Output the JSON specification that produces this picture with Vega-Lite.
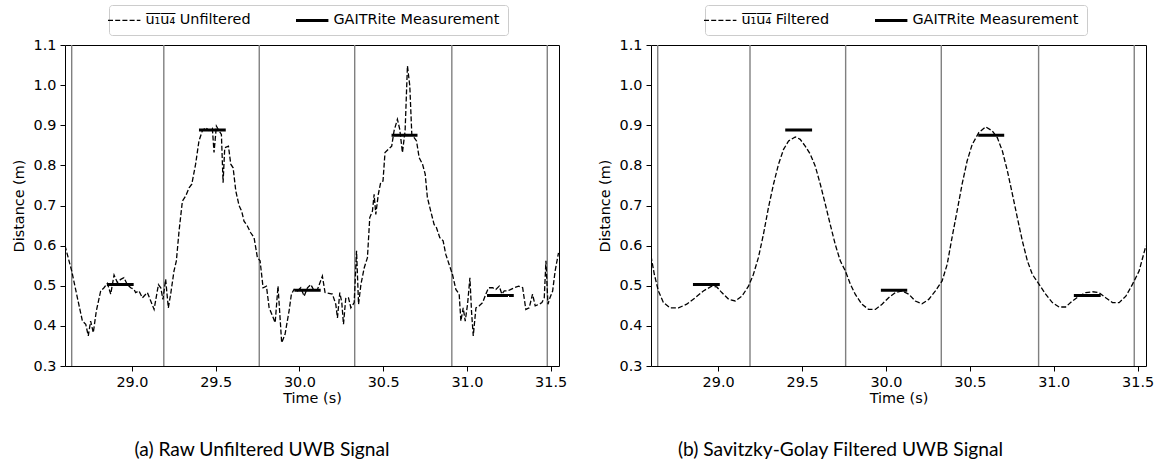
{
  "$schema": "https://vega.github.io/schema/vega-lite/v6.json",
  "padding": {"left": 10, "top": 4, "right": 12, "bottom": 4},
  "config": {
    "font": "DejaVu Sans",
    "view": {"stroke": "black", "strokeWidth": 1},
    "axis": {"labelFont": "DejaVu Sans", "labelFontSize": 14.4, "labelColor": "black", "titleFont": "DejaVu Sans", "titleFontSize": 14.4, "titleFontWeight": "normal", "titleColor": "black", "tickColor": "black", "tickSize": 5, "labelPadding": 4, "grid": false, "domain": false},
    "legend": {"labelFont": "DejaVu Sans", "labelFontSize": 14.4, "labelColor": "black", "labelLimit": 400},
    "title": {"font": "Lato", "fontSize": 19.2, "fontWeight": "normal", "color": "black"}
  },
  "datasets": {
    "steps": [{"t": 28.64}, {"t": 29.19}, {"t": 29.76}, {"t": 30.33}, {"t": 30.91}, {"t": 31.48}],
    "gait": [
      {"t0": 28.85, "t1": 29.01, "d": 0.503},
      {"t0": 29.40, "t1": 29.56, "d": 0.888},
      {"t0": 29.97, "t1": 30.127, "d": 0.489},
      {"t0": 30.55, "t1": 30.705, "d": 0.875},
      {"t0": 31.12, "t1": 31.28, "d": 0.476}
    ],
    "raw": [
      {"t": 28.600, "d": 0.600}, {"t": 28.640, "d": 0.537}, {"t": 28.674, "d": 0.470}, {"t": 28.704, "d": 0.412},
      {"t": 28.724, "d": 0.404}, {"t": 28.739, "d": 0.375}, {"t": 28.753, "d": 0.412}, {"t": 28.769, "d": 0.383},
      {"t": 28.787, "d": 0.437}, {"t": 28.813, "d": 0.487}, {"t": 28.833, "d": 0.495}, {"t": 28.853, "d": 0.506},
      {"t": 28.873, "d": 0.479}, {"t": 28.893, "d": 0.527}, {"t": 28.913, "d": 0.508}, {"t": 28.933, "d": 0.516},
      {"t": 28.952, "d": 0.520}, {"t": 28.972, "d": 0.503}, {"t": 28.992, "d": 0.495}, {"t": 29.012, "d": 0.491},
      {"t": 29.022, "d": 0.483}, {"t": 29.042, "d": 0.487}, {"t": 29.062, "d": 0.470}, {"t": 29.092, "d": 0.483},
      {"t": 29.112, "d": 0.462}, {"t": 29.132, "d": 0.441}, {"t": 29.158, "d": 0.503}, {"t": 29.172, "d": 0.495},
      {"t": 29.185, "d": 0.466}, {"t": 29.201, "d": 0.516}, {"t": 29.217, "d": 0.445}, {"t": 29.231, "d": 0.479},
      {"t": 29.251, "d": 0.537}, {"t": 29.265, "d": 0.562}, {"t": 29.281, "d": 0.636}, {"t": 29.301, "d": 0.711},
      {"t": 29.321, "d": 0.724}, {"t": 29.341, "d": 0.744}, {"t": 29.357, "d": 0.753}, {"t": 29.380, "d": 0.803},
      {"t": 29.400, "d": 0.861}, {"t": 29.420, "d": 0.886}, {"t": 29.440, "d": 0.894}, {"t": 29.460, "d": 0.887},
      {"t": 29.480, "d": 0.892}, {"t": 29.490, "d": 0.832}, {"t": 29.504, "d": 0.898}, {"t": 29.520, "d": 0.886},
      {"t": 29.534, "d": 0.877}, {"t": 29.544, "d": 0.757}, {"t": 29.554, "d": 0.844}, {"t": 29.576, "d": 0.848},
      {"t": 29.590, "d": 0.803}, {"t": 29.604, "d": 0.794}, {"t": 29.620, "d": 0.736}, {"t": 29.640, "d": 0.699},
      {"t": 29.655, "d": 0.686}, {"t": 29.669, "d": 0.661}, {"t": 29.689, "d": 0.649}, {"t": 29.709, "d": 0.632},
      {"t": 29.729, "d": 0.620}, {"t": 29.749, "d": 0.570}, {"t": 29.765, "d": 0.562}, {"t": 29.783, "d": 0.495},
      {"t": 29.803, "d": 0.499}, {"t": 29.819, "d": 0.445}, {"t": 29.839, "d": 0.425}, {"t": 29.855, "d": 0.408},
      {"t": 29.872, "d": 0.499}, {"t": 29.894, "d": 0.358}, {"t": 29.914, "d": 0.379}, {"t": 29.938, "d": 0.437},
      {"t": 29.952, "d": 0.479}, {"t": 29.968, "d": 0.491}, {"t": 29.988, "d": 0.487}, {"t": 30.008, "d": 0.495},
      {"t": 30.028, "d": 0.474}, {"t": 30.048, "d": 0.495}, {"t": 30.068, "d": 0.503}, {"t": 30.088, "d": 0.487},
      {"t": 30.108, "d": 0.491}, {"t": 30.137, "d": 0.524}, {"t": 30.153, "d": 0.483}, {"t": 30.197, "d": 0.479},
      {"t": 30.217, "d": 0.454}, {"t": 30.227, "d": 0.420}, {"t": 30.241, "d": 0.483}, {"t": 30.253, "d": 0.458},
      {"t": 30.263, "d": 0.404}, {"t": 30.277, "d": 0.470}, {"t": 30.293, "d": 0.470}, {"t": 30.307, "d": 0.445},
      {"t": 30.327, "d": 0.458}, {"t": 30.341, "d": 0.587}, {"t": 30.353, "d": 0.454}, {"t": 30.367, "d": 0.503},
      {"t": 30.387, "d": 0.545}, {"t": 30.406, "d": 0.570}, {"t": 30.420, "d": 0.670}, {"t": 30.436, "d": 0.686},
      {"t": 30.446, "d": 0.728}, {"t": 30.456, "d": 0.678}, {"t": 30.471, "d": 0.728}, {"t": 30.485, "d": 0.757},
      {"t": 30.499, "d": 0.761}, {"t": 30.511, "d": 0.832}, {"t": 30.531, "d": 0.840}, {"t": 30.551, "d": 0.848},
      {"t": 30.565, "d": 0.886}, {"t": 30.585, "d": 0.915}, {"t": 30.599, "d": 0.890}, {"t": 30.615, "d": 0.832},
      {"t": 30.631, "d": 0.886}, {"t": 30.645, "d": 1.048}, {"t": 30.659, "d": 0.998}, {"t": 30.671, "d": 0.877},
      {"t": 30.685, "d": 0.869}, {"t": 30.699, "d": 0.861}, {"t": 30.715, "d": 0.819}, {"t": 30.735, "d": 0.803},
      {"t": 30.751, "d": 0.778}, {"t": 30.764, "d": 0.720}, {"t": 30.784, "d": 0.686}, {"t": 30.804, "d": 0.653},
      {"t": 30.818, "d": 0.645}, {"t": 30.838, "d": 0.620}, {"t": 30.858, "d": 0.612}, {"t": 30.874, "d": 0.578},
      {"t": 30.894, "d": 0.553}, {"t": 30.914, "d": 0.528}, {"t": 30.934, "d": 0.491}, {"t": 30.954, "d": 0.479},
      {"t": 30.964, "d": 0.412}, {"t": 30.978, "d": 0.445}, {"t": 30.990, "d": 0.412}, {"t": 31.004, "d": 0.454},
      {"t": 31.018, "d": 0.520}, {"t": 31.028, "d": 0.433}, {"t": 31.038, "d": 0.375}, {"t": 31.054, "d": 0.445},
      {"t": 31.074, "d": 0.450}, {"t": 31.094, "d": 0.458}, {"t": 31.113, "d": 0.479}, {"t": 31.129, "d": 0.495},
      {"t": 31.153, "d": 0.495}, {"t": 31.173, "d": 0.491}, {"t": 31.193, "d": 0.499}, {"t": 31.209, "d": 0.479},
      {"t": 31.223, "d": 0.487}, {"t": 31.243, "d": 0.487}, {"t": 31.263, "d": 0.491}, {"t": 31.283, "d": 0.495},
      {"t": 31.309, "d": 0.499}, {"t": 31.333, "d": 0.495}, {"t": 31.352, "d": 0.441}, {"t": 31.372, "d": 0.445},
      {"t": 31.392, "d": 0.479}, {"t": 31.408, "d": 0.450}, {"t": 31.432, "d": 0.454}, {"t": 31.448, "d": 0.458},
      {"t": 31.462, "d": 0.470}, {"t": 31.472, "d": 0.562}, {"t": 31.484, "d": 0.454}, {"t": 31.496, "d": 0.470},
      {"t": 31.512, "d": 0.487}, {"t": 31.527, "d": 0.537}, {"t": 31.547, "d": 0.582}
    ],
    "filt": [
      {"t": 28.600, "d": 0.574}, {"t": 28.620, "d": 0.528}, {"t": 28.644, "d": 0.487}, {"t": 28.674, "d": 0.458},
      {"t": 28.714, "d": 0.445}, {"t": 28.764, "d": 0.445}, {"t": 28.813, "d": 0.454}, {"t": 28.863, "d": 0.470},
      {"t": 28.912, "d": 0.487}, {"t": 28.962, "d": 0.499}, {"t": 28.992, "d": 0.497}, {"t": 29.022, "d": 0.483},
      {"t": 29.063, "d": 0.466}, {"t": 29.102, "d": 0.462}, {"t": 29.142, "d": 0.474}, {"t": 29.181, "d": 0.499},
      {"t": 29.210, "d": 0.528}, {"t": 29.240, "d": 0.570}, {"t": 29.270, "d": 0.628}, {"t": 29.300, "d": 0.695},
      {"t": 29.330, "d": 0.753}, {"t": 29.360, "d": 0.803}, {"t": 29.390, "d": 0.840}, {"t": 29.420, "d": 0.861},
      {"t": 29.460, "d": 0.871}, {"t": 29.489, "d": 0.865}, {"t": 29.519, "d": 0.848}, {"t": 29.549, "d": 0.828},
      {"t": 29.579, "d": 0.798}, {"t": 29.609, "d": 0.753}, {"t": 29.639, "d": 0.703}, {"t": 29.668, "d": 0.653},
      {"t": 29.698, "d": 0.603}, {"t": 29.728, "d": 0.562}, {"t": 29.758, "d": 0.537}, {"t": 29.788, "d": 0.504},
      {"t": 29.817, "d": 0.479}, {"t": 29.857, "d": 0.454}, {"t": 29.897, "d": 0.441}, {"t": 29.937, "d": 0.441},
      {"t": 29.977, "d": 0.454}, {"t": 30.016, "d": 0.470}, {"t": 30.056, "d": 0.483}, {"t": 30.096, "d": 0.487},
      {"t": 30.136, "d": 0.479}, {"t": 30.175, "d": 0.462}, {"t": 30.215, "d": 0.455}, {"t": 30.255, "d": 0.466},
      {"t": 30.295, "d": 0.487}, {"t": 30.335, "d": 0.512}, {"t": 30.365, "d": 0.553}, {"t": 30.394, "d": 0.620},
      {"t": 30.424, "d": 0.686}, {"t": 30.454, "d": 0.753}, {"t": 30.484, "d": 0.811}, {"t": 30.514, "d": 0.852},
      {"t": 30.554, "d": 0.882}, {"t": 30.594, "d": 0.896}, {"t": 30.634, "d": 0.886}, {"t": 30.664, "d": 0.869},
      {"t": 30.694, "d": 0.836}, {"t": 30.724, "d": 0.786}, {"t": 30.754, "d": 0.728}, {"t": 30.783, "d": 0.670},
      {"t": 30.813, "d": 0.612}, {"t": 30.843, "d": 0.562}, {"t": 30.873, "d": 0.528}, {"t": 30.912, "d": 0.504},
      {"t": 30.952, "d": 0.479}, {"t": 30.992, "d": 0.458}, {"t": 31.032, "d": 0.447}, {"t": 31.071, "d": 0.447},
      {"t": 31.111, "d": 0.462}, {"t": 31.151, "d": 0.474}, {"t": 31.191, "d": 0.483}, {"t": 31.231, "d": 0.485},
      {"t": 31.270, "d": 0.483}, {"t": 31.310, "d": 0.470}, {"t": 31.350, "d": 0.458}, {"t": 31.390, "d": 0.458},
      {"t": 31.430, "d": 0.474}, {"t": 31.470, "d": 0.504}, {"t": 31.509, "d": 0.537}, {"t": 31.549, "d": 0.599}
    ]
  },
  "spacing": 28,
  "resolve": {
    "scale": {"color": "independent", "strokeDash": "independent"},
    "legend": {"color": "independent", "strokeDash": "independent"}
  },
  "hconcat": [
    {
      "width": 494,
      "height": 321,
      "title": {"text": "(a) Raw Unfiltered UWB Signal", "orient": "bottom", "anchor": "middle", "dx": -50, "offset": 36},
      "encoding": {
        "x": {"field": "t", "type": "quantitative", "scale": {"domain": [28.6, 31.55], "nice": false, "zero": false}, "axis": {"values": [29, 29.5, 30, 30.5, 31, 31.5], "format": ".1f", "title": "Time (s)", "titlePadding": 3}}
      },
      "layer": [
        {
          "data": {"name": "steps"},
          "mark": {"type": "rule", "color": "#808080", "strokeWidth": 1.4},
          "encoding": {"x": {"field": "t", "type": "quantitative"}}
        },
        {
          "data": {"name": "raw"},
          "mark": {"type": "line", "strokeWidth": 1.3, "clip": true},
          "encoding": {
            "y": {"field": "d", "type": "quantitative", "scale": {"domain": [0.3, 1.1], "nice": false, "zero": false}, "axis": {"values": [0.3, 0.4, 0.5, 0.6, 0.7, 0.8, 0.9, 1.0, 1.1], "format": ".1f", "title": "Distance (m)", "titlePadding": 7}},
            "color": {"datum": "UWB", "type": "nominal", "scale": {"domain": ["UWB", "GAITRite Measurement"], "range": ["black", "black"]},
              "legend": {"title": null, "orient": "none", "legendX": 44, "legendY": -40, "direction": "horizontal", "symbolType": "stroke", "symbolSize": 1050, "symbolStrokeColor": "black", "labelOffset": 14, "columnPadding": 38, "padding": 8, "strokeColor": "#cccccc", "fillColor": "white", "cornerRadius": 3, "labelLimit": 400,
                "labelExpr": "datum.value == 'UWB' ? 'u\u0305\u2081\u0305u\u0305\u2084\u0305 Unfiltered' : datum.value",
                "encode": {"symbols": {"update": {"strokeWidth": {"signal": "datum.value == 'UWB' ? 1.3 : 3"}}}}}},
            "strokeDash": {"datum": "UWB", "type": "nominal", "scale": {"domain": ["UWB", "GAITRite Measurement"], "range": [[5, 2.2], [1, 0]]},
              "legend": {"title": null, "orient": "none", "legendX": 44, "legendY": -40, "direction": "horizontal", "symbolType": "stroke", "symbolSize": 1050, "symbolStrokeColor": "black", "labelOffset": 14, "columnPadding": 38, "padding": 8, "strokeColor": "#cccccc", "fillColor": "white", "cornerRadius": 3, "labelLimit": 400,
                "labelExpr": "datum.value == 'UWB' ? 'u\u0305\u2081\u0305u\u0305\u2084\u0305 Unfiltered' : datum.value",
                "encode": {"symbols": {"update": {"strokeWidth": {"signal": "datum.value == 'UWB' ? 1.3 : 3"}}}}}}
          }
        },
        {
          "data": {"name": "gait"},
          "mark": {"type": "rule", "strokeWidth": 3},
          "encoding": {
            "x": {"field": "t0", "type": "quantitative"},
            "x2": {"field": "t1"},
            "y": {"field": "d", "type": "quantitative"},
            "color": {"datum": "GAITRite Measurement", "type": "nominal"},
            "strokeDash": {"datum": "GAITRite Measurement", "type": "nominal"}
          }
        }
      ]
    },
    {
      "width": 495,
      "height": 321,
      "title": {"text": "(b) Savitzky-Golay Filtered UWB Signal", "orient": "bottom", "anchor": "middle", "dx": -58, "offset": 36},
      "encoding": {
        "x": {"field": "t", "type": "quantitative", "scale": {"domain": [28.6, 31.55], "nice": false, "zero": false}, "axis": {"values": [29, 29.5, 30, 30.5, 31, 31.5], "format": ".1f", "title": "Time (s)", "titlePadding": 3}}
      },
      "layer": [
        {
          "data": {"name": "steps"},
          "mark": {"type": "rule", "color": "#808080", "strokeWidth": 1.4},
          "encoding": {"x": {"field": "t", "type": "quantitative"}}
        },
        {
          "data": {"name": "filt"},
          "mark": {"type": "line", "strokeWidth": 1.3, "clip": true},
          "encoding": {
            "y": {"field": "d", "type": "quantitative", "scale": {"domain": [0.3, 1.1], "nice": false, "zero": false}, "axis": {"values": [0.3, 0.4, 0.5, 0.6, 0.7, 0.8, 0.9, 1.0, 1.1], "format": ".1f", "title": "Distance (m)", "titlePadding": 7}},
            "color": {"datum": "UWB", "type": "nominal", "scale": {"domain": ["UWB", "GAITRite Measurement"], "range": ["black", "black"]},
              "legend": {"title": null, "orient": "none", "legendX": 54, "legendY": -40, "direction": "horizontal", "symbolType": "stroke", "symbolSize": 1050, "symbolStrokeColor": "black", "labelOffset": 14, "columnPadding": 38, "padding": 8, "strokeColor": "#cccccc", "fillColor": "white", "cornerRadius": 3, "labelLimit": 400,
                "labelExpr": "datum.value == 'UWB' ? 'u\u0305\u2081\u0305u\u0305\u2084\u0305 Filtered' : datum.value",
                "encode": {"symbols": {"update": {"strokeWidth": {"signal": "datum.value == 'UWB' ? 1.3 : 3"}}}}}},
            "strokeDash": {"datum": "UWB", "type": "nominal", "scale": {"domain": ["UWB", "GAITRite Measurement"], "range": [[5, 2.2], [1, 0]]},
              "legend": {"title": null, "orient": "none", "legendX": 54, "legendY": -40, "direction": "horizontal", "symbolType": "stroke", "symbolSize": 1050, "symbolStrokeColor": "black", "labelOffset": 14, "columnPadding": 38, "padding": 8, "strokeColor": "#cccccc", "fillColor": "white", "cornerRadius": 3, "labelLimit": 400,
                "labelExpr": "datum.value == 'UWB' ? 'u\u0305\u2081\u0305u\u0305\u2084\u0305 Filtered' : datum.value",
                "encode": {"symbols": {"update": {"strokeWidth": {"signal": "datum.value == 'UWB' ? 1.3 : 3"}}}}}}
          }
        },
        {
          "data": {"name": "gait"},
          "mark": {"type": "rule", "strokeWidth": 3},
          "encoding": {
            "x": {"field": "t0", "type": "quantitative"},
            "x2": {"field": "t1"},
            "y": {"field": "d", "type": "quantitative"},
            "color": {"datum": "GAITRite Measurement", "type": "nominal"},
            "strokeDash": {"datum": "GAITRite Measurement", "type": "nominal"}
          }
        }
      ]
    }
  ]
}
